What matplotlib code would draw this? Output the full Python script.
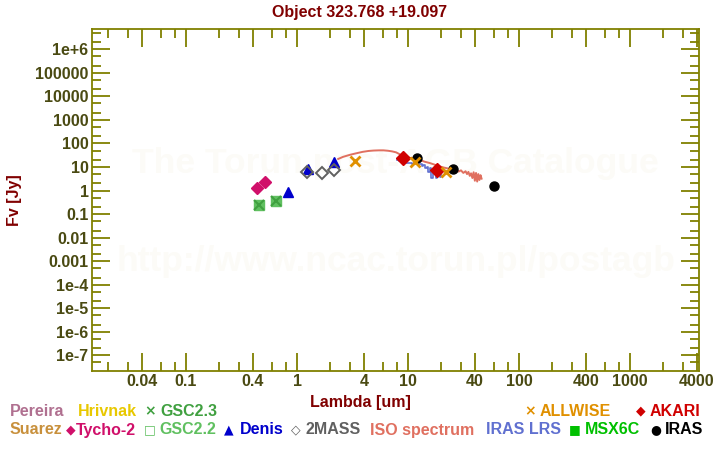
import matplotlib
matplotlib.use("Agg")
import matplotlib.pyplot as plt
from matplotlib.ticker import FixedLocator, FixedFormatter, NullFormatter

plt.rcParams["font.family"] = ["Liberation Sans", "DejaVu Sans"]
plt.rcParams["font.weight"] = "bold"

# photometry (wavelength um, flux Jy)
tycho_lam = [0.44, 0.51]
tycho_f = [1.26, 2.27]
gsc_lam = [0.45, 0.65]
gsc_f = [0.24, 0.37]
denis_lam = [0.83, 1.26, 2.15]
denis_f = [0.86, 8.5, 16.0]
tmass_lam = [1.24, 1.69, 2.17]
tmass_f = [6.0, 5.5, 7.3]
allwise_lam = [3.35, 11.6, 22.1]
allwise_f = [17.6, 16.4, 6.0]
akari_lam = [9.0, 18.1]
akari_f = [24.3, 7.6]
iras_lam = [12.1, 25.3, 60.0]
iras_f = [25.0, 8.1, 1.54]

# ISO SWS spectrum
iso_lam = [2.35, 2.6, 3.0, 3.4, 3.9, 4.4, 4.9, 5.5, 6.0, 6.6, 7.2, 7.8, 8.3, 8.8,
           9.3, 10.0, 11.0, 12.0, 13.0, 14.0, 15.8, 17.0, 19.4, 21.0, 23.0, 25.0,
           27.5, 28.5, 30.0, 31.5, 33.0, 34.0, 35.0, 36.0, 37.0, 38.0, 39.0,
           40.0, 41.0, 42.0, 43.0, 44.0, 45.0, 46.0]
iso_f = [22, 27, 33, 38, 44, 48, 50, 51, 51, 49, 46, 42, 36, 30,
         27, 25, 23.5, 22, 19.5, 17, 14.6, 13, 10.5, 9.5, 8.6, 8.0,
         7.6, 6.4, 7.2, 5.6, 6.6, 5.0, 6.2, 4.2, 5.4, 3.4, 6.0,
         2.6, 5.6, 2.4, 5.0, 2.8, 4.5, 3.2]

# IRAS LRS spectrum
lrs_lam = [8.0, 8.5, 9.0, 9.5, 10.0, 10.5, 11.0, 11.5, 12.0, 12.5, 13.0, 13.5,
           14.0, 14.5, 15.0, 15.5, 16.0, 16.5, 17.0, 17.5, 18.0, 18.5, 19.0,
           19.5, 20.0]
lrs_f = [20, 18.5, 16, 15, 14.5, 14.8, 14, 15, 14.5, 13.5, 13, 11.5,
         11.8, 9.5, 10, 6.0, 8.8, 3.5, 8.0, 7.5, 3.4, 7.0, 6.4, 3.9, 5.5]

x_major = [0.04, 0.1, 0.4, 1, 4, 10, 40, 100, 400, 1000, 4000]
x_major_lbl = ["0.04", "0.1", "0.4", "1", "4", "10", "40", "100", "400", "1000", "4000"]
x_minor = [0.02, 0.03, 0.06, 0.08, 0.2, 0.3, 0.6, 0.8, 2, 3, 6, 8, 20, 30, 60, 80,
           200, 300, 600, 800, 2000, 3000]
y_major = [1e6, 1e5, 1e4, 1e3, 100, 10, 1, 0.1, 0.01, 1e-3, 1e-4, 1e-5, 1e-6, 1e-7]
y_major_lbl = ["1e+6", "100000", "10000", "1000", "100", "10", "1", "0.1", "0.01",
               "0.001", "1e-4", "1e-5", "1e-6", "1e-7"]
y_minor = [m * 10.0 ** e for e in range(-8, 7) for m in (2, 5)]

olive = "#808000"
ticklbl = "#4a4a12"
darkred = "#800000"

fig = plt.figure(figsize=(7.2, 4.5), dpi=100)
ax = fig.add_axes([92 / 720, 1 - 371 / 450, 607 / 720, 342 / 450])
ax.set_xscale("log")
ax.set_yscale("log")
ax.set_xlim(0.01422, 4183)
ax.set_ylim(2.15e-8, 7.3e6)

# watermark
ax.text(0.5, 0.608, "The Torun post-AGB Catalogue", transform=ax.transAxes,
        ha="center", va="center", fontsize=25.5, color="#fcfbf7", zorder=0)
ax.text(0.5, 0.319, "http://www.ncac.torun.pl/postagb", transform=ax.transAxes,
        ha="center", va="center", fontsize=25.5, color="#fcfbf7", zorder=0)

ax.plot(iso_lam, iso_f, color="#e07060", lw=1.4, zorder=2)
ax.plot(lrs_lam, lrs_f, color="#6070d0", lw=1.2, drawstyle="steps-mid", zorder=2)

ax.plot(gsc_lam, gsc_f, "s", color="#60c060", ms=6.5, zorder=3)
ax.plot(gsc_lam, gsc_f, "x", color="#40a040", ms=6.5, mew=1.5, zorder=3)
ax.plot(tycho_lam, tycho_f, "D", color="#d0106a", ms=6.5, zorder=3)
ax.plot(denis_lam, denis_f, "^", color="#0000cc", ms=7.5, zorder=3)
ax.plot(tmass_lam, tmass_f, "D", mfc="none", mec="#606060", mew=1.4, ms=6, zorder=4)
ax.plot(allwise_lam, allwise_f, "x", color="#e09000", ms=7, mew=2, zorder=4)
ax.plot(akari_lam, akari_f, "D", color="#d00000", ms=7, zorder=3)
ax.plot(iras_lam, iras_f, "o", color="black", ms=6.5, zorder=3)

ax.xaxis.set_major_locator(FixedLocator(x_major))
ax.xaxis.set_major_formatter(FixedFormatter(x_major_lbl))
ax.xaxis.set_minor_locator(FixedLocator(x_minor))
ax.xaxis.set_minor_formatter(NullFormatter())
ax.yaxis.set_major_locator(FixedLocator(y_major))
ax.yaxis.set_major_formatter(FixedFormatter(y_major_lbl))
ax.yaxis.set_minor_locator(FixedLocator(y_minor))
ax.yaxis.set_minor_formatter(NullFormatter())

ax.tick_params(which="both", direction="in", top=True, right=True, color=olive,
               width=1.3, labelsize=11.5, labelcolor=ticklbl)
ax.tick_params(which="major", length=13, pad=2.5)
ax.tick_params(which="minor", length=6.5)
for lbl in ax.get_xticklabels() + ax.get_yticklabels():
    lbl.set_fontweight("bold")
for sp in ax.spines.values():
    sp.set_color(olive)
    sp.set_linewidth(1.3)

fig.text(0.5, 1 - 12 / 450, "Object 323.768 +19.097", ha="center", va="center",
         fontsize=11.5, color=darkred)
fig.text(360 / 720, 1 - 403 / 450, "Lambda [um]", ha="center", va="center",
         fontsize=11.5, color=darkred)
fig.text(15 / 720, 1 - 200 / 450, "Fv [Jy]", ha="center", va="center",
         rotation=90, fontsize=11.5, color=darkred)

# legend: (marker, marker x, text, text x, row y, colour)
legend = [
    ("", 0, "Pereira", 10, 411, "#b07090"),
    ("", 0, "Hrivnak", 78, 411, "#e8c800"),
    ("\u00d7", 150.5, "GSC2.3", 160, 411, "#40a040"),
    ("\u00d7", 530, "ALLWISE", 540, 411, "#e09000"),
    ("\u25c6", 641, "AKARI", 650, 411, "#d00000"),
    ("", 0, "Suarez", 10, 430, "#c8903c"),
    ("\u25c6", 71, "Tycho-2", 76, 430, "#d0106a"),
    ("\u25a1", 150, "GSC2.2", 159, 430, "#60c060"),
    ("\u25b2", 229, "Denis", 240, 430, "#0000cc"),
    ("\u25c7", 296, "2MASS", 305, 430, "#606060"),
    ("", 0, "ISO spectrum", 370, 430, "#e07060"),
    ("", 0, "IRAS LRS", 486, 430, "#6070d0"),
    ("\u25a0", 575, "MSX6C", 585, 430, "#00c000"),
    ("\u25cf", 656, "IRAS", 665, 430, "black"),
]
for mk, mx, txt, tx, ty, col in legend:
    if mk:
        size = 10 if mk == "\u00d7" else 9
        fig.text(mx / 720, 1 - ty / 450, mk, ha="center", va="center",
                 fontsize=size, color=col, family="DejaVu Sans")
    fig.text(tx / 720, 1 - ty / 450, txt, ha="left", va="center",
             fontsize=11.5, color=col)

fig.savefig("out.png", dpi=100)
